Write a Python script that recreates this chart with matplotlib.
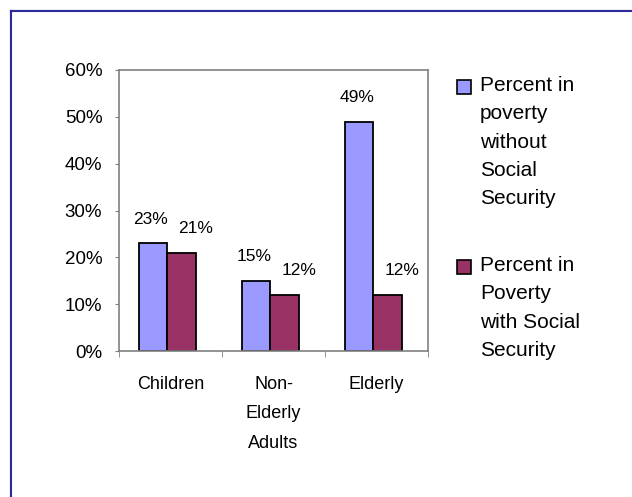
import matplotlib
matplotlib.use("Agg")
import matplotlib.pyplot as plt
from matplotlib.lines import Line2D
from matplotlib.patches import Rectangle
import numpy as np

plt.rcParams["font.family"] = ["Liberation Sans", "DejaVu Sans"]

categories = ["Children", "Non-\nElderly\nAdults", "Elderly"]
without_ss = [23, 15, 49]
with_ss = [21, 12, 12]
series_labels = ["Percent in\npoverty\nwithout\nSocial\nSecurity",
                 "Percent in\nPoverty\nwith Social\nSecurity"]
yticks = [0, 10, 20, 30, 40, 50, 60]

blue = "#9999FF"
maroon = "#993366"
grey = "#808080"

W, H = 632, 497
fig = plt.figure(figsize=(W / 100, H / 100), dpi=100)
fig.patch.set_facecolor("white")

# window-ish border on the top and left edges
fig.add_artist(Line2D([10 / W, 1], [1 - 9.5 / H] * 2, color="#c8c8c8", lw=1))
fig.add_artist(Line2D([9.5 / W] * 2, [0, 1 - 9.5 / H], color="#c8c8c8", lw=1))
fig.add_artist(Line2D([11 / W, 1], [1 - 11 / H] * 2, color="#2a2a9a", lw=1.5))
fig.add_artist(Line2D([11 / W] * 2, [0, 1 - 11 / H], color="#2a2a9a", lw=1.5))

ax = fig.add_axes([119 / W, 1 - 351 / H, 309 / W, 281 / H])

x = np.arange(len(categories))
w = 0.28
shift = -0.03
b1 = ax.bar(x + shift - w / 2, without_ss, w, color=blue, edgecolor="black", lw=1.3)
b2 = ax.bar(x + shift + w / 2, with_ss, w, color=maroon, edgecolor="black", lw=1.3)

# value labels; the second series' labels sit a little to the right, as in Excel
for bars, dx in ((b1, -1.5), (b2, 10)):
    for rect in bars:
        v = rect.get_height()
        ax.annotate(f"{v:.0f}%", (rect.get_x() + rect.get_width() / 2, v),
                    xytext=(dx, 12), textcoords="offset points",
                    ha="center", va="bottom", fontsize=12.5)

ax.set_xlim(-0.5, len(categories) - 0.5)
ax.set_ylim(0, 60)
ax.set_yticks(yticks)
ax.set_yticklabels([f"{t}%" for t in yticks], fontsize=13.5)
ax.set_xticks(x)
ax.set_xticklabels(categories, fontsize=13, linespacing=1.95, va="top")
ax.set_xticks(np.arange(len(categories) + 1) - 0.5, minor=True)
ax.tick_params(axis="x", which="major", length=0, pad=18)
ax.tick_params(axis="x", which="minor", length=4, color=grey, direction="out")
ax.tick_params(axis="y", length=3, color=grey, pad=9)

for s in ax.spines.values():
    s.set_color(grey)
    s.set_linewidth(1.2)

# legend, drawn as squares with multi-line text beside them
leg_y = [87, 267]
for col, lab, yc in zip([blue, maroon], series_labels, leg_y):
    fig.add_artist(Rectangle((457 / W, 1 - (yc + 7) / H), 14 / W, 14 / H,
                             transform=fig.transFigure, facecolor=col,
                             edgecolor="black", lw=1.2))
    fig.text(480 / W, 1 - (yc - 11) / H, lab, ha="left", va="top",
             fontsize=15, linespacing=1.62)

fig.savefig("out.png", dpi=100, facecolor="white")
